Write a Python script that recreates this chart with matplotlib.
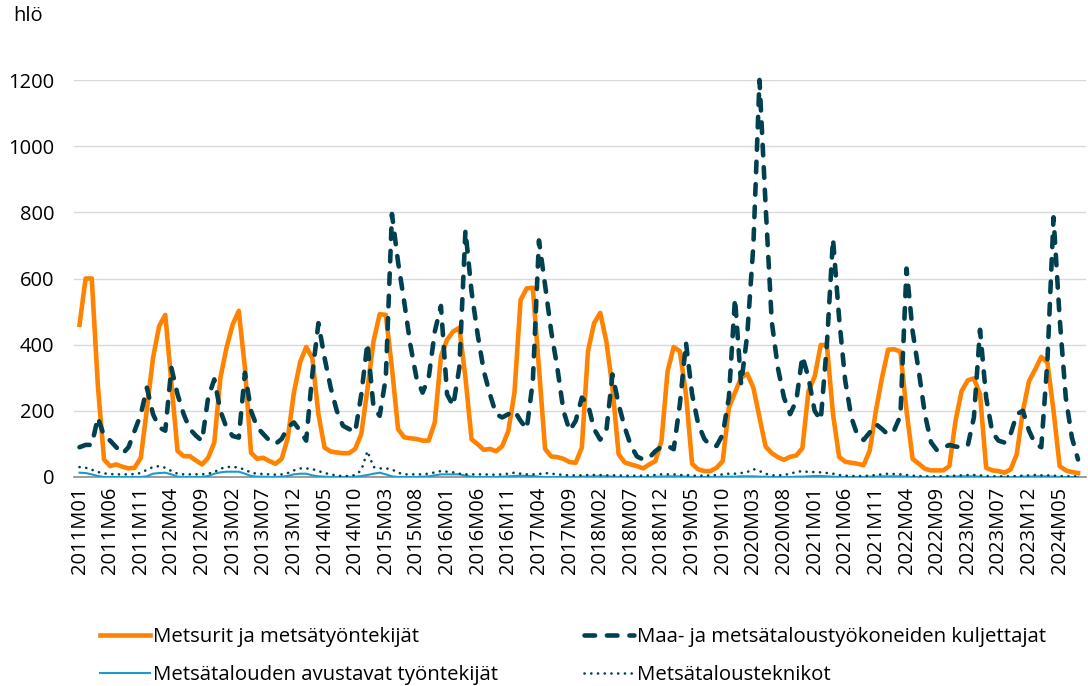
import numpy as np
import matplotlib
matplotlib.use("Agg")
import matplotlib.pyplot as plt

plt.rcParams['font.family'] = ['Open Sans', 'DejaVu Sans']

# monthly categories 2011M01 .. 2024M08
months = [f"{y}M{m:02d}" for y in range(2011, 2025) for m in range(1, 13)][:164]

# Metsurit ja metsätyöntekijät
metsurit = [
    460, 600, 600, 275, 53, 33, 38, 31, 26, 28, 58, 205,      # 2011
    360, 456, 490, 285, 79, 63, 63, 50, 38, 58, 104, 300,     # 2012
    391, 461, 502, 330, 73, 55, 58, 48, 40, 55, 118, 255,     # 2013
    346, 393, 360, 190, 89, 77, 74, 72, 72, 85, 130, 265,     # 2014
    411, 492, 490, 330, 145, 120, 117, 115, 110, 110, 165, 365,  # 2015
    415, 440, 451, 300, 114, 99, 82, 85, 78, 93, 139, 255,    # 2016
    535, 570, 572, 330, 85, 62, 60, 55, 45, 43, 89, 380,      # 2017
    465, 496, 410, 270, 69, 44, 38, 33, 26, 38, 48, 109,      # 2018
    320, 393, 380, 250, 40, 23, 18, 18, 28, 48, 210, 255,     # 2019
    300, 312, 270, 180, 92, 72, 60, 52, 61, 65, 87, 260,      # 2020
    303, 399, 399, 190, 61, 46, 43, 40, 36, 80, 200, 300,     # 2021
    385, 386, 379, 200, 55, 40, 25, 20, 20, 20, 33, 170,      # 2022
    260, 292, 298, 250, 28, 20, 18, 13, 23, 69, 200, 290,     # 2023
    325, 363, 346, 200, 33, 20, 15, 12,                       # 2024
]

# Maa- ja metsätaloustyökoneiden kuljettajat
kuljettajat = [
    90, 97, 97, 180, 124, 110, 90, 70, 90, 140, 189, 270,
    190, 150, 140, 330, 250, 190, 145, 125, 109, 240, 295, 200,
    149, 124, 119, 315, 200, 150, 130, 110, 100, 115, 150, 165,
    140, 110, 310, 465, 360, 270, 200, 155, 145, 135, 250, 405,
    210, 185, 300, 795, 650, 530, 400, 300, 255, 300, 440, 517,
    250, 215, 330, 745, 560, 430, 320, 250, 190, 180, 190, 200,
    170, 145, 290, 715, 580, 440, 330, 200, 140, 170, 240, 220,
    145, 113, 140, 310, 220, 150, 95, 62, 53, 58, 78, 92,
    94, 84, 220, 406, 250, 160, 115, 94, 94, 129, 240, 540,
    280, 430, 700, 1200, 820, 470, 330, 240, 190, 230, 365, 300,
    200, 172, 400, 720, 480, 290, 180, 125, 112, 135, 160, 145,
    128, 142, 185, 630, 440, 320, 190, 105, 80, 88, 97, 92,
    90, 95, 180, 445, 240, 135, 110, 104, 130, 190, 200, 140,
    100, 90, 350, 785, 480, 240, 119, 53,
]

# Metsätalouden avustavat työntekijät
avustavat = [
    13, 12, 8, 3, 0, 0, 0, 0, 0, 0, 0, 2,
    10, 12, 13, 8, 1, 0, 0, 0, 0, 3, 10, 14,
    16, 16, 16, 10, 3, 1, 1, 0, 0, 1, 3, 8,
    10, 10, 5, 2, 1, 0, 0, 0, 0, 1, 3, 6,
    10, 13, 8, 2, 0, 0, 0, 0, 1, 2, 5, 8,
    8, 8, 8, 4, 1, 0, 0, 0, 0, 1, 2, 3,
    4, 3, 3, 1, 0, 0, 0, 0, 0, 0, 1, 1,
    2, 2, 2, 1, 0, 0, 0, 0, 0, 0, 1, 1,
    2, 2, 2, 1, 0, 0, 0, 0, 0, 1, 1, 1,
    2, 2, 2, 1, 1, 0, 0, 0, 0, 1, 1, 2,
    3, 3, 2, 1, 0, 0, 0, 0, 0, 1, 1, 2,
    2, 2, 2, 1, 0, 0, 0, 0, 0, 0, 1, 1,
    2, 2, 2, 1, 0, 0, 0, 0, 0, 0, 1, 1,
    2, 2, 2, 1, 0, 0, 0, 0,
]

# Metsätalousteknikot
teknikot = [
    30, 28, 22, 15, 11, 9, 8, 8, 8, 9, 12, 22,
    30, 33, 28, 18, 10, 8, 8, 8, 8, 10, 15, 25,
    30, 31, 28, 22, 13, 10, 9, 8, 7, 8, 12, 20,
    26, 26, 24, 18, 12, 8, 4, 3, 3, 6, 20, 78,
    30, 26, 26, 23, 13, 8, 8, 8, 8, 10, 14, 18,
    16, 14, 10, 8, 8, 8, 8, 7, 7, 8, 10, 13,
    10, 8, 8, 9, 12, 10, 8, 6, 5, 5, 5, 6,
    6, 6, 5, 5, 5, 4, 4, 4, 4, 5, 6, 8,
    8, 8, 6, 6, 4, 4, 4, 5, 6, 8, 10, 10,
    12, 15, 24, 18, 10, 5, 5, 6, 10, 15, 18, 15,
    15, 14, 12, 10, 6, 4, 3, 3, 3, 4, 6, 8,
    10, 9, 8, 6, 4, 3, 2, 2, 2, 2, 3, 4,
    5, 6, 6, 5, 3, 2, 2, 2, 2, 3, 4, 5,
    6, 5, 5, 4, 3, 2, 2, 2,
]

labels = ["Metsurit ja metsätyöntekijät",
          "Maa- ja metsätaloustyökoneiden kuljettajat",
          "Metsätalouden avustavat työntekijät",
          "Metsätalousteknikot"]

ORANGE = '#FF8200'
DARK = '#00404F'
BLUE = '#1A9BCC'

fs = 14.5      # tick labels
fs_leg = 14.7  # legend
fig = plt.figure(figsize=(10.88, 6.86), dpi=100)
ax = fig.add_axes([74 / 1088, 209 / 686, (1086 - 74) / 1088, 397 / 686])

x = np.arange(len(months))
l1, = ax.plot(x, metsurit, color=ORANGE, lw=3.3, solid_joinstyle='round', zorder=3)
l2, = ax.plot(x, kuljettajat, color=DARK, lw=3.3, linestyle=(0, (2.3, 2.6)),
              dash_capstyle='round', zorder=4, clip_on=False)
l3, = ax.plot(x, avustavat, color=BLUE, lw=1.5, zorder=5)
l4, = ax.plot(x, teknikot, color=DARK, lw=1.9, linestyle=(0, (0.05, 2.5)),
              dash_capstyle='round', zorder=6)

ax.set_ylim(0, 1200)
ax.set_yticks(np.arange(0, 1201, 200))
ax.set_xlim(-0.9, 164.3)
ax.set_xticks(x[::5])
ax.set_xticklabels(months[::5], rotation=90)
ax.grid(axis='y', color='#D9D9D9', lw=1.0)
ax.set_axisbelow(True)
for s in ['top', 'right', 'left']:
    ax.spines[s].set_visible(False)
ax.spines['bottom'].set_color('#8C8C8C')
ax.spines['bottom'].set_linewidth(1.2)
ax.tick_params(axis='both', length=0, labelsize=fs, colors='black')
ax.tick_params(axis='y', pad=14)
ax.tick_params(axis='x', pad=7)

fig.text(13 / 1088, 1 - 16 / 686, 'hlö', fontsize=fs, va='center', ha='left')

fig.legend([l1, l3, l2, l4], [labels[0], labels[2], labels[1], labels[3]],
           loc='upper left', bbox_to_anchor=(100 / 1088, 1 - 627 / 686),
           ncol=2, frameon=False, fontsize=fs_leg, handlelength=2.45,
           handletextpad=0.15, columnspacing=4.2, labelspacing=0.87,
           borderaxespad=0, borderpad=0)

fig.savefig('out.png', dpi=100)
